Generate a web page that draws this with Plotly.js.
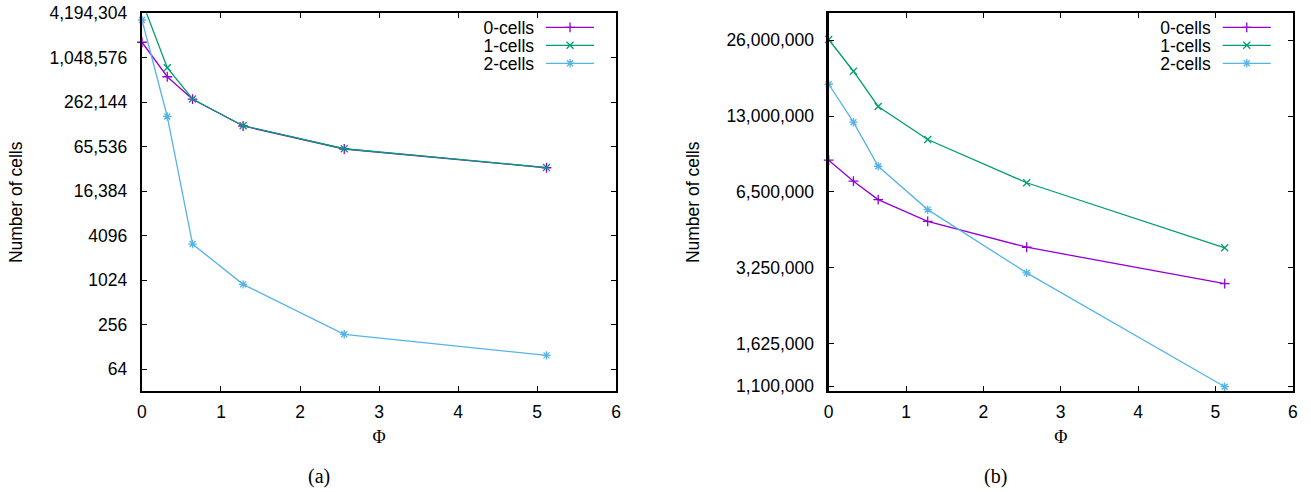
<!DOCTYPE html>
<html>
<head>
<meta charset="utf-8">
<script src="https://cdn.plot.ly/plotly-3.0.1.min.js"></script>
<style>html,body{margin:0;padding:0;background:#fff}</style>
</head>
<body>
<div id="chart" style="width:1311px;height:492px"></div>
<script>
// ---- data ----
const phi = [0, 0.32, 0.64, 1.28, 2.56, 5.12];
const seriesNames = ['0-cells', '1-cells', '2-cells'];
const aCells0 = [1700000, 580000, 288000, 125000, 61000, 34000];
const aCells1 = [6100000, 767000, 290000, 126000, 61500, 34200];
const aCells2 = [3400000, 168000, 3150, 897, 189, 98];
const bCells0 = [8690000, 7170000, 6060000, 4970000, 3920000, 2810000];
const bCells1 = [26200000, 19600000, 14200000, 10500000, 7070000, 3900000];
const bCells2 = [17400000, 12300000, 8220000, 5530000, 3100000, 1095000];
const aTickVals = [64, 256, 1024, 4096, 16384, 65536, 262144, 1048576, 4194304];
const aTickText = ['64', '256', '1024', '4096', '16,384', '65,536', '262,144', '1,048,576', '4,194,304'];
const bTickVals = [1100000, 1625000, 3250000, 6500000, 13000000, 26000000];
const bTickText = ['1,100,000', '1,625,000', '3,250,000', '6,500,000', '13,000,000', '26,000,000'];
const xTicks = [0, 1, 2, 3, 4, 5, 6];
const panelLabels = ['(a)', '(b)'];
const xTitle = 'Φ';
const yTitle = 'Number of cells';

// ---- styles ----
const colors = ['#9400d3', '#009e73', '#56b4e9'];
const symbols = ['cross-thin', 'x-thin', 'asterisk'];
const FS = 17.5;

function mk(y, i, xa, ya, leg, clip) {
  return {
    x: phi, y: y, name: seriesNames[i], type: 'scatter', mode: 'lines+markers',
    xaxis: xa, yaxis: ya, legend: leg, cliponaxis: clip,
    line: {color: colors[i], width: 1.3},
    marker: {symbol: symbols[i], size: 7, color: colors[i], line: {color: colors[i], width: 1.3}}
  };
}

const traces = [
  mk(aCells0, 0, 'x', 'y', 'legend', false),
  mk(aCells1, 1, 'x', 'y', 'legend', true),
  mk(aCells2, 2, 'x', 'y', 'legend', false),
  mk(bCells0, 0, 'x2', 'y2', 'legend2', false),
  mk(bCells1, 1, 'x2', 'y2', 'legend2', false),
  mk(bCells2, 2, 'x2', 'y2', 'legend2', false)
];

const tickFont = {family: 'Liberation Sans, Arial, sans-serif', size: FS, color: '#000'};
const axisCommon = {
  showgrid: false, zeroline: false, showline: true, linecolor: '#000', linewidth: 2.2,
  mirror: 'ticks', ticks: 'inside', ticklen: 5, tickwidth: 1, tickcolor: '#000',
  tickfont: tickFont, automargin: false
};

const xAxisBase = Object.assign({}, axisCommon, {
  range: [0, 6], tickvals: xTicks, ticklabelstandoff: 4,
  title: {text: xTitle, font: {family: 'Liberation Serif, Times New Roman, serif', size: 18, color: '#000'}, standoff: 9}
});
const yTitleObj = {text: yTitle, font: tickFont, standoff: 22};

const layout = {
  width: 1311, height: 492,
  margin: {l: 0, r: 0, t: 0, b: 0},
  paper_bgcolor: '#fff', plot_bgcolor: '#fff',
  font: {family: 'Liberation Sans, Arial, sans-serif', size: FS, color: '#000'},
  showlegend: true,
  xaxis: Object.assign({}, xAxisBase, {domain: [0.1083, 0.4699], anchor: 'y'}),
  yaxis: Object.assign({}, axisCommon, {
    domain: [0.2047, 0.973], anchor: 'x', type: 'log',
    range: [Math.log10(32), Math.log10(4194304)],
    tickvals: aTickVals, ticktext: aTickText, ticklabelstandoff: 9, title: yTitleObj
  }),
  xaxis2: Object.assign({}, xAxisBase, {domain: [0.6321, 0.9861], anchor: 'y2'}),
  yaxis2: Object.assign({}, axisCommon, {
    domain: [0.2047, 0.973], anchor: 'x2', type: 'log',
    range: [Math.log10(1050000), Math.log10(33300000)],
    tickvals: bTickVals, ticktext: bTickText, ticklabelstandoff: 9, title: yTitleObj
  }),
  legend: {x: 0.46, y: 0.97, xanchor: 'right', yanchor: 'top', bgcolor: 'rgba(0,0,0,0)', font: {size: FS}},
  legend2: {x: 0.98, y: 0.97, xanchor: 'right', yanchor: 'top', bgcolor: 'rgba(0,0,0,0)', font: {size: FS}},
  annotations: [
    {text: panelLabels[0], xref: 'paper', yref: 'paper', x: 0.2433, y: 0.0315, xanchor: 'center', yanchor: 'middle', showarrow: false,
     font: {family: 'Liberation Serif, Times New Roman, serif', size: 20, color: '#000'}},
    {text: panelLabels[1], xref: 'paper', yref: 'paper', x: 0.759, y: 0.0315, xanchor: 'center', yanchor: 'middle', showarrow: false,
     font: {family: 'Liberation Serif, Times New Roman, serif', size: 20, color: '#000'}}
  ]
};

// gnuplot-style legend: text right-aligned, then the line sample on its right
function arrangeLegends() {
  const gd = document.getElementById('chart');
  const fl = gd._fullLayout;
  if (!fl) return;
  [['legend', 'xaxis', 'yaxis'], ['legend2', 'xaxis2', 'yaxis2']].forEach(function (d) {
    const g = gd.querySelector('g.infolayer > g.' + d[0]);
    if (!g) return;
    const xa = fl[d[1]], ya = fl[d[2]];
    const right = xa._offset + xa._length;
    const top = ya._offset;
    g.setAttribute('transform', 'translate(0,0)');
    g.querySelectorAll('.scrollbox, .groups').forEach(function (e) {
      e.removeAttribute('clip-path');
      e.setAttribute('transform', 'translate(0,0)');
    });
    g.querySelectorAll('g.traces').forEach(function (it, i) {
      it.setAttribute('transform', 'translate(0,' + (top + 14 + 18 * i) + ')');
      it.querySelectorAll('text').forEach(function (t) {
        t.setAttribute('x', right - 82);
        t.setAttribute('text-anchor', 'end');
        t.style.textAnchor = 'end';
        t.querySelectorAll('tspan').forEach(function (s) { if (s.hasAttribute('x')) s.setAttribute('x', right - 82); });
      });
      const layers = it.querySelector('g.layers');
      if (layers) {
        layers.setAttribute('transform', 'translate(' + (right - 70) + ',0)');
        layers.querySelectorAll('.legendlines path').forEach(function (p) { p.setAttribute('d', 'M0,0h48'); });
        layers.querySelectorAll('.legendpoints path').forEach(function (p) { p.setAttribute('transform', 'translate(24,0)'); });
      }
    });
  });
}

Plotly.newPlot('chart', traces, layout, {staticPlot: true, displayModeBar: false}).then(function () {
  arrangeLegends();
  requestAnimationFrame(arrangeLegends);
  setTimeout(arrangeLegends, 30);
  setTimeout(arrangeLegends, 200);
});
</script>
</body>
</html>
